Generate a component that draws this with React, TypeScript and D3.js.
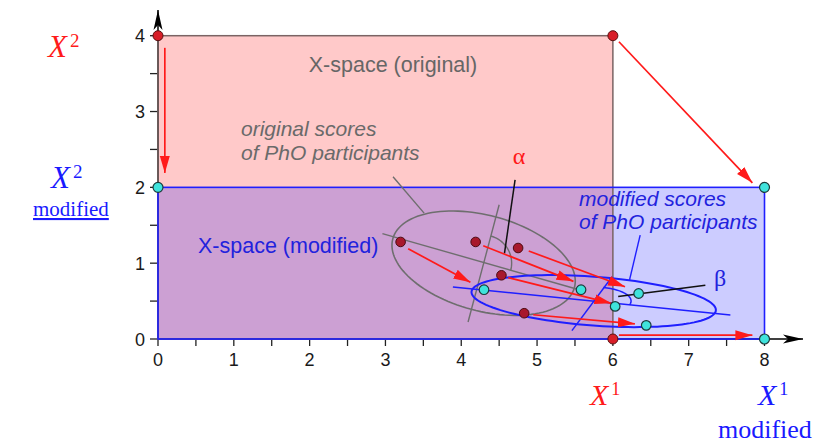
import React from "react";
import * as d3 from "d3";

// ---------- data ----------
const xTickValues = [0, 1, 2, 3, 4, 5, 6, 7, 8];
const yTickValues = [0, 1, 2, 3, 4];
const xMinorTicks = [0, 0.5, 1, 1.5, 2, 2.5, 3, 3.5, 4, 4.5, 5, 5.5, 6, 6.5, 7, 7.5, 8];
const yMinorTicks = [0, 0.5, 1, 1.5, 2, 2.5, 3, 3.5, 4];

const originalSpaceX = [0, 6];
const originalSpaceY = [0, 4];
const modifiedSpaceX = [0, 8];
const modifiedSpaceY = [0, 2];

const originalCorners = [[0, 4], [6, 4], [6, 0]];
const modifiedCorners = [[0, 2], [8, 2], [8, 0]];

const originalScores = [[3.2, 1.28], [4.19, 1.28], [4.75, 1.2], [4.53, 0.84], [4.83, 0.34]];
const modifiedScores = [[4.3, 0.65], [5.58, 0.65], [6.34, 0.6], [6.03, 0.43], [6.44, 0.18]];

const cornerArrows = [
  [0.09, 3.84, 0.09, 2.19],
  [6.08, 3.92, 7.84, 2.06],
  [6.08, 0.05, 7.84, 0.05],
];
const scoreArrows = [
  [3.3, 1.19, 4.12, 0.75],
  [4.29, 1.23, 5.48, 0.76],
  [4.89, 1.16, 6.16, 0.69],
  [4.62, 0.81, 5.98, 0.47],
  [4.95, 0.32, 6.29, 0.2],
];

// ellipses: centre + two conjugate semi-diameters
const originalEllipseCenter = [4.295, 1.0];
const originalEllipseP = [1.198, -0.321];
const originalEllipseQ = [0.163, 0.609];
const modifiedEllipseCenter = [5.747, 0.5];
const modifiedEllipseP = [1.597, -0.16];
const modifiedEllipseQ = [0.2175, 0.304];

const originalMajor = [[2.96, 1.39], [5.52, 0.66]];
const originalMinor = [[4.09, 0.224], [4.5, 1.77]];
const modifiedMajor = [[3.89, 0.686], [7.55, 0.317]];
const modifiedMinor = [[5.46, 0.11], [5.99, 0.82]];

const alphaArcP = [0.357, -0.096];
const alphaArcQ = [0.096, 0.357];
const betaArcP = [0.476, -0.048];
const betaArcQ = [0.128, 0.179];

const originalPointer = [[3.1, 2.14], [3.51, 1.66]];
const modifiedPointer = [[6.36, 1.37], [6.22, 0.78]];
const alphaPointer = [[4.71, 2.1], [4.57, 1.13]];
const betaPointer = [[7.22, 0.71], [6.07, 0.56]];

// ---------- chart ----------
const W = 816;
const H = 444;
const x = d3.scaleLinear().domain([0, 8]).range([158, 764.5]);
const y = d3.scaleLinear().domain([0, 4]).range([339, 35.7]);

const SANS = "'Liberation Sans', Arial, sans-serif";
const SERIF = "'Liberation Serif', 'Times New Roman', serif";

function ellipsePath(c: number[], p: number[], q: number[], t0 = 0, t1 = Math.PI * 2, n = 120) {
  const pts = d3.range(n + 1).map((i) => {
    const t = t0 + ((t1 - t0) * i) / n;
    return [x(c[0] + Math.cos(t) * p[0] + Math.sin(t) * q[0]), y(c[1] + Math.cos(t) * p[1] + Math.sin(t) * q[1])] as [number, number];
  });
  return d3.line()(pts) as string;
}

function seg(s: number[][]) {
  return d3.line()(s.map((d) => [x(d[0]), y(d[1])] as [number, number])) as string;
}

export default function App() {
  const x0 = x(0);
  const y0 = y(0);
  return (
    <svg width={W} height={H} style={{ position: "absolute", left: 0, top: 0, background: "#fff" }}>
      <defs>
        <marker id="redHead" markerUnits="userSpaceOnUse" markerWidth="20" markerHeight="12" viewBox="0 -6 20 12" refX="17" refY="0" orient="auto">
          <path d="M0,-5L17,0L0,5Z" fill="#ff1a1a" />
        </marker>
        <marker id="blackHead" markerUnits="userSpaceOnUse" markerWidth="24" markerHeight="12" viewBox="0 -6 24 12" refX="20" refY="0" orient="auto">
          <path d="M0,-4.5L20,0L0,4.5L5,0Z" fill="#000" />
        </marker>
      </defs>

      {/* fills */}
      <rect
        x={x(originalSpaceX[0])}
        y={y(originalSpaceY[1])}
        width={x(originalSpaceX[1]) - x(originalSpaceX[0])}
        height={y(originalSpaceY[0]) - y(originalSpaceY[1])}
        fill="#ff0000"
        fillOpacity={0.21}
      />
      <rect
        x={x(modifiedSpaceX[0])}
        y={y(modifiedSpaceY[1])}
        width={x(modifiedSpaceX[1]) - x(modifiedSpaceX[0])}
        height={y(modifiedSpaceY[0]) - y(modifiedSpaceY[1])}
        fill="#0000ff"
        fillOpacity={0.2}
      />

      {/* axes */}
      <line x1={x0} y1={y0} x2={x0} y2={10} stroke="#000" strokeWidth={1.5} markerEnd="url(#blackHead)" />
      <line x1={x0} y1={y0} x2={803} y2={y0} stroke="#000" strokeWidth={1.5} markerEnd="url(#blackHead)" />
      {xMinorTicks.map((v) => (
        <line key={"xt" + v} x1={x(v)} x2={x(v)} y1={y0} y2={y0 + 7} stroke="#222" strokeWidth={1.3} />
      ))}
      {yMinorTicks.map((v) => (
        <line key={"yt" + v} x1={x0 - 8} x2={x0} y1={y(v)} y2={y(v)} stroke="#222" strokeWidth={1.3} />
      ))}
      {xTickValues.map((v) => (
        <text key={"xl" + v} x={x(v)} y={y0 + 27} textAnchor="middle" fontFamily={SANS} fontSize={18} fill="#1a1a1a">
          {v}
        </text>
      ))}
      {yTickValues.map((v) => (
        <text key={"yl" + v} x={x0 - 13} y={y(v) + 6.5} textAnchor="end" fontFamily={SANS} fontSize={18} fill="#1a1a1a">
          {v}
        </text>
      ))}

      {/* borders */}
      <rect
        x={x(originalSpaceX[0])}
        y={y(originalSpaceY[1])}
        width={x(originalSpaceX[1]) - x(originalSpaceX[0])}
        height={y(originalSpaceY[0]) - y(originalSpaceY[1])}
        fill="none"
        stroke="#7a6464"
        strokeWidth={1.5}
      />
      <rect
        x={x(modifiedSpaceX[0])}
        y={y(modifiedSpaceY[1])}
        width={x(modifiedSpaceX[1]) - x(modifiedSpaceX[0])}
        height={y(modifiedSpaceY[0]) - y(modifiedSpaceY[1])}
        fill="none"
        stroke="#1f1fff"
        strokeWidth={1.6}
      />

      {/* original ellipse */}
      <path d={ellipsePath(originalEllipseCenter, originalEllipseP, originalEllipseQ)} fill="none" stroke="#6e6e6e" strokeWidth={1.6} />
      <path d={seg(originalMajor)} stroke="#6e6e6e" strokeWidth={1.4} fill="none" />
      <path d={seg(originalMinor)} stroke="#6e6e6e" strokeWidth={1.4} fill="none" />
      <path d={ellipsePath(originalEllipseCenter, alphaArcP, alphaArcQ, 0, Math.PI / 2, 30)} fill="none" stroke="#6e6e6e" strokeWidth={1.4} />
      <path d={seg(originalPointer)} stroke="#6e6e6e" strokeWidth={1.4} fill="none" />

      {/* modified ellipse */}
      <path d={ellipsePath(modifiedEllipseCenter, modifiedEllipseP, modifiedEllipseQ)} fill="none" stroke="#1f1fff" strokeWidth={2} />
      <path d={seg(modifiedMajor)} stroke="#1f1fff" strokeWidth={1.5} fill="none" />
      <path d={seg(modifiedMinor)} stroke="#1f1fff" strokeWidth={1.5} fill="none" />
      <path d={ellipsePath(modifiedEllipseCenter, betaArcP, betaArcQ, 0, Math.PI / 2, 30)} fill="none" stroke="#1f1fff" strokeWidth={1.5} />
      <path d={seg(modifiedPointer)} stroke="#1f1fff" strokeWidth={1.4} fill="none" />

      {/* angle pointers */}
      <path d={seg(alphaPointer)} stroke="#111" strokeWidth={1.5} fill="none" />
      <path d={seg(betaPointer)} stroke="#111" strokeWidth={1.5} fill="none" />

      {/* arrows */}
      {[...cornerArrows, ...scoreArrows].map((a, i) => (
        <line key={"ar" + i} x1={x(a[0])} y1={y(a[1])} x2={x(a[2])} y2={y(a[3])} stroke="#ff1a1a" strokeWidth={1.7} markerEnd="url(#redHead)" />
      ))}

      {/* points */}
      {originalCorners.map((d, i) => (
        <circle key={"oc" + i} cx={x(d[0])} cy={y(d[1])} r={5} fill="#d81e28" stroke="#5a1010" strokeWidth={1} />
      ))}
      {modifiedCorners.map((d, i) => (
        <circle key={"mc" + i} cx={x(d[0])} cy={y(d[1])} r={5} fill="#3fe3dc" stroke="#1c3a3a" strokeWidth={1.2} />
      ))}
      {originalScores.map((d, i) => (
        <circle key={"os" + i} cx={x(d[0])} cy={y(d[1])} r={4.8} fill="#a8182c" stroke="#4a0a12" strokeWidth={1} />
      ))}
      {modifiedScores.map((d, i) => (
        <circle key={"ms" + i} cx={x(d[0])} cy={y(d[1])} r={4.8} fill="#3fe3dc" stroke="#1c3a3a" strokeWidth={1.2} />
      ))}

      {/* labels */}
      <text x={393} y={72} textAnchor="middle" fontFamily={SANS} fontSize={21.5} fill="#666">X-space (original)</text>
      <text fontFamily={SANS} fontSize={21} fontStyle="italic" fill="#6a6a6a">
        <tspan x={241} y={136}>original scores</tspan>
        <tspan x={241} y={160}>of PhO participants</tspan>
      </text>
      <text x={519} y={164} textAnchor="middle" fontFamily={SERIF} fontSize={24} fill="#ff1a1a">α</text>
      <text x={198} y={253} fontFamily={SANS} fontSize={21.5} fill="#2222dd">X-space (modified)</text>
      <text fontFamily={SANS} fontSize={21} fontStyle="italic" fill="#2222dd">
        <tspan x={579} y={206}>modified scores</tspan>
        <tspan x={579} y={229}>of PhO participants</tspan>
      </text>
      <text x={720} y={286} textAnchor="middle" fontFamily={SERIF} fontSize={24} fill="#2222dd">β</text>

      {/* math labels */}
      <text x={48} y={57} fontFamily={SERIF} fontSize={31} fill="#ff1a1a">
        <tspan fontStyle="italic">X</tspan>
        <tspan dx={3} dy={-10} fontSize={19}>2</tspan>
      </text>
      <text x={51} y={188} fontFamily={SERIF} fontSize={31} fill="#1a1aff">
        <tspan fontStyle="italic">X</tspan>
        <tspan dx={3} dy={-10} fontSize={19}>2</tspan>
      </text>
      <text x={33} y={216} fontFamily={SERIF} fontSize={21} fill="#1a1aff" textDecoration="underline">modified</text>

      <text x={590} y={405} fontFamily={SERIF} fontSize={30} fill="#ff1a1a">
        <tspan fontStyle="italic">X</tspan>
        <tspan dx={3} dy={-10} fontSize={18}>1</tspan>
      </text>
      <text x={758} y={405} fontFamily={SERIF} fontSize={30} fill="#1a1aff">
        <tspan fontStyle="italic">X</tspan>
        <tspan dx={3} dy={-10} fontSize={18}>1</tspan>
      </text>
      <text x={718} y={438} fontFamily={SERIF} fontSize={26} fill="#1a1aff">modified</text>
    </svg>
  );
}
